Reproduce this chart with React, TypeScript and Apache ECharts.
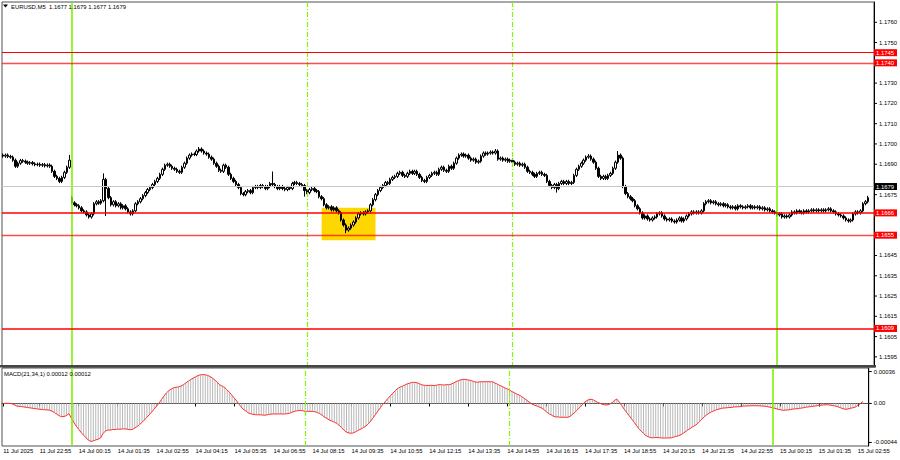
import React, { useEffect, useRef } from 'react';
import * as echarts from 'echarts';

// Closes in pips above 1.1600 (5-minute bars)
const fridayCloses = [
  94.0, 94.5, 93.8, 93.5, 92.0, 89.0, 90.5, 91.8, 91.5, 91.0,
  90.5, 90.8, 90.2, 89.8, 90.0, 89.5, 89.8, 89.2, 89.6, 89.0,
  86.5, 84.0, 83.0, 81.5, 83.5, 86.0, 88.5, 92.0,
];
const mondayCloses = [
  71.0, 70.0, 69.5, 68.5, 67.0, 66.5, 65.0, 64.0, 65.5, 70.5,
  71.5, 70.8, 72.0, 82.5, 78.0, 73.5, 70.0, 71.5, 69.5, 70.5,
  68.5, 69.5, 68.0, 66.5, 65.5, 67.0, 70.5, 71.5, 73.0, 74.5,
  76.0, 77.5, 78.5, 80.0, 81.5, 83.0, 85.0, 87.5, 89.5, 90.0,
  89.0, 88.0, 87.5, 86.5, 86.0, 88.5, 90.5, 93.0, 94.5, 95.0,
  94.8, 96.5, 97.5, 96.5, 95.5, 95.0, 93.5, 92.5, 90.5, 89.0,
  87.0, 86.5, 89.5, 88.5, 85.0, 83.0, 81.5, 80.0, 78.5, 75.5,
  75.0, 76.5, 77.0, 76.0, 78.5, 79.0, 78.5, 79.5, 79.0, 78.0,
  79.0, 80.5, 80.0, 79.0, 78.0, 79.0, 78.0, 77.5, 78.5, 78.0,
  80.5, 81.0, 80.5, 80.0, 79.5, 77.0, 76.0, 77.5, 78.0, 77.0,
  76.5, 74.0, 73.0, 70.0, 68.5, 69.0, 67.5, 68.5, 67.0, 66.0,
  62.5, 60.0, 57.5, 58.5, 60.0, 61.5, 63.5, 65.5, 66.0, 65.5,
  66.5, 67.0, 70.0, 72.5, 75.0, 77.0, 78.5, 79.5, 81.0, 80.5,
  82.5, 83.5, 84.0, 85.5, 86.0, 84.5, 84.0, 85.5, 86.5, 85.5,
  86.5, 85.0, 83.5, 82.0, 81.5, 83.5, 84.5, 85.5, 86.0, 85.0,
  87.5, 88.5, 87.0, 86.5, 89.0, 88.0, 90.5, 93.0, 94.5, 95.0,
  94.0, 94.5, 93.0, 92.0, 92.5, 91.0, 91.5, 94.0, 95.5, 95.0,
  95.5, 96.0, 95.5, 96.5, 92.5, 93.0, 92.0, 92.5, 91.5, 92.0,
  91.0, 90.0, 90.5, 89.5, 90.0, 88.5, 86.5, 86.0, 85.0, 84.0,
  85.5, 86.0, 85.0, 84.5, 81.5, 79.5, 78.5, 80.0, 78.0, 80.5,
  81.5, 80.5, 81.5, 80.5, 81.0, 84.5, 87.5, 89.0, 90.5, 92.0,
  93.5, 94.0, 92.5, 91.0, 88.0, 84.0, 83.0, 84.0, 83.0, 84.5,
  85.5, 88.0, 91.0, 94.5, 93.0, 79.0, 75.5, 74.0, 73.0, 72.0,
  69.5, 68.0, 66.0, 63.5, 64.5, 63.0, 62.5, 63.5, 64.0, 65.5,
  66.0, 64.5, 63.0, 62.5, 63.0, 62.0, 61.5, 62.5, 63.5, 62.0,
  63.0, 64.5, 65.5, 66.5, 66.0, 66.5, 66.0, 67.0, 70.5, 71.5,
  72.0, 71.0, 71.5, 70.5, 70.0, 70.5, 69.5, 70.0, 69.0, 68.5,
  69.0, 68.0, 69.5, 69.0, 68.5, 69.0, 69.5, 68.5, 69.0, 68.5,
  69.0, 68.0, 68.5, 67.5, 68.0, 67.0, 66.5, 66.0, 65.0, 65.5,
  64.0, 64.5, 64.0, 65.0, 66.5, 66.0, 67.0, 66.5, 66.0, 67.0,
  66.5, 67.0, 67.5, 67.0, 67.5, 67.0, 67.5, 67.0, 67.5, 68.0,
  67.0, 66.5, 65.5, 65.0, 64.5, 63.5, 62.5, 62.0, 62.5, 65.5,
  66.5, 66.0, 67.0, 70.5, 71.5, 73.5,
];
const firstOpen = 94.5;
const weekOpen = 73.5;
// [bar index, high pips or null, low pips or null]
const wickSpikes: [number, number | null, number | null][] = [
  [27, 94.6, null], [41, 85.5, null], [42, null, 64.5], [80, 98.5, null],
  [110, 86.4, null], [123, null, 74.0], [140, null, 56.0], [201, 97.5, null],
  [226, null, 76.0], [239, 95.0, null], [251, 96.5, null], [353, 74.4, null],
];
const xTickLabels = [
  '11 Jul 2025', '11 Jul 22:55', '14 Jul 00:15', '14 Jul 01:35', '14 Jul 02:55',
  '14 Jul 04:15', '14 Jul 05:35', '14 Jul 06:55', '14 Jul 08:15', '14 Jul 09:35',
  '14 Jul 10:55', '14 Jul 12:15', '14 Jul 13:35', '14 Jul 14:55', '14 Jul 16:15',
  '14 Jul 17:35', '14 Jul 18:55', '14 Jul 20:15', '14 Jul 21:35', '14 Jul 22:55',
  '15 Jul 00:15', '15 Jul 01:35', '15 Jul 02:55',
];
const priceTickLabels = [
  '1.1760', '1.1750', '1.1730', '1.1720', '1.1710', '1.1700', '1.1690',
  '1.1675', '1.1645', '1.1635', '1.1625', '1.1615', '1.1605', '1.1595',
];
const macdTickLabels: [number, string][] = [[0.00036, '0.00036'], [0, '0.00'], [-0.00044, '-0.00044']];
const levelPrices = [1.1745, 1.1740, 1.1666, 1.1655, 1.1609];
const levelOpacity = [1, 0.7, 1, 0.7, 1];
const levelWidths = [1, 1.4, 1.6, 1.4, 1.6];
const bidPrice = 1.1679;
const sessionLines = [28, 124, 208, 316];
const sessionDashed = [false, true, true, false];
const boxRange = { fromBar: 130, toBar: 152, high: 1.16685, low: 1.16525 };

const FONT = '"Liberation Sans", Arial, sans-serif';
const FS = 5.9;
const toPrice = (p: number) => +(1.16 + p / 10000).toFixed(5);

export default function App() {
  const ref = useRef<HTMLDivElement>(null);
  useEffect(() => {
    if (!ref.current) return;
    const chart = echarts.init(ref.current, null, { renderer: 'svg' });
    const closes = [...fridayCloses, ...mondayCloses];
    const nBars = closes.length;
    const nCats = nBars + 2;
    const cats = Array.from({ length: nCats }, (_, i) => 'b' + i);
    const spikeMap = new Map<number, [number | null, number | null]>();
    wickSpikes.forEach(([i, h, l]) => spikeMap.set(i, [h, l]));
    const candles: any[] = [];
    for (let i = 0; i < nCats; i++) {
      if (i >= nBars) { candles.push('-'); continue; }
      const c = closes[i];
      const o = i === 0 ? firstOpen : i === fridayCloses.length ? weekOpen : closes[i - 1];
      const sp = spikeMap.get(i);
      let h = Math.max(o, c) + 0.8;
      let l = Math.min(o, c) - 0.8;
      if (sp && sp[0] != null) h = Math.max(sp[0], o, c);
      if (sp && sp[1] != null) l = Math.min(sp[1], o, c);
      candles.push([toPrice(o), toPrice(c), toPrice(l), toPrice(h)]);
    }
    // MACD(21,34,1) from closes
    const a21 = 2 / 22, a34 = 2 / 35;
    let e21 = toPrice(closes[0]), e34 = toPrice(closes[0]);
    const macd: any[] = [];
    for (let i = 0; i < nCats; i++) {
      if (i >= nBars) { macd.push('-'); continue; }
      const p = toPrice(closes[i]);
      e21 = e21 + a21 * (p - e21);
      e34 = e34 + a34 * (p - e34);
      macd.push(+(e21 - e34).toFixed(7));
    }
    const isTick = (index: number) =>
      index === 0 || (index >= 15 && (index - 15) % 16 === 0 && (index - 15) / 16 + 1 < xTickLabels.length);
    const labelFor = (index: number) => {
      if (index === 0) return xTickLabels[0];
      const k = (index - 15) / 16 + 1;
      return xTickLabels[k] || '';
    };
    const boxLabel = (text: string, bg: string) => ({
      show: true, position: 'end', formatter: text, color: '#ffffff', backgroundColor: bg,
      padding: [1, 3, 0, 2], fontSize: FS, fontFamily: FONT, distance: 0, opacity: 1,
    });
    const hLines: any[] = levelPrices.map((p, i) => ({
      yAxis: p,
      lineStyle: { color: 'rgb(255,0,0)', width: levelWidths[i], type: 'solid', opacity: levelOpacity[i] },
      label: boxLabel(p.toFixed(4), 'rgb(255,0,0)'),
    }));
    hLines.push({
      yAxis: bidPrice,
      lineStyle: { color: 'rgb(200,200,200)', width: 1, type: 'solid', opacity: 1 },
      label: boxLabel(bidPrice.toFixed(4), '#000000'),
    });
    const makeVLines = () => sessionLines.map((b, i) => ({
      xAxis: b,
      lineStyle: sessionDashed[i]
        ? { color: '#7cfc00', width: 1.2, type: [5, 2, 1, 2], opacity: 1 }
        : { color: '#80f000', width: 1.6, type: 'solid', opacity: 1 },
      label: { show: false },
    }));
    const tickRich = {
      t: { width: 3, height: 1, backgroundColor: '#000' },
      v: { padding: [0, 0, 0, 2], fontSize: FS, fontFamily: FONT, color: '#000' },
    };
    const option: any = {
      animation: false,
      backgroundColor: '#ffffff',
      grid: [
        { left: 2, top: 2, width: 874, height: 365, show: true, borderColor: '#505050', borderWidth: 1 },
        { left: 2, top: 368, width: 874, height: 78, show: true, borderColor: '#505050', borderWidth: 1 },
      ],
      xAxis: [
        {
          type: 'category', gridIndex: 0, data: cats, boundaryGap: true,
          axisLine: { show: false }, axisTick: { show: false }, axisLabel: { show: false }, splitLine: { show: false },
        },
        {
          type: 'category', gridIndex: 1, data: cats, boundaryGap: true,
          axisLine: { show: true, lineStyle: { color: '#505050' } },
          axisTick: { show: true, alignWithLabel: true, interval: isTick, length: 3, lineStyle: { color: '#000' } },
          axisLabel: {
            show: true, interval: isTick, formatter: (_v: string, i: number) => labelFor(i),
            align: 'left', margin: 2, fontSize: FS, color: '#000', fontFamily: FONT,
          },
          splitLine: { show: false },
        },
      ],
      yAxis: [
        {
          type: 'value', gridIndex: 0, position: 'right', min: 1.1590, max: 1.1770, interval: 0.0005,
          axisLine: { show: true, lineStyle: { color: '#000' } }, axisTick: { show: false }, splitLine: { show: false },
          axisLabel: {
            margin: 0, fontSize: FS, color: '#000', fontFamily: FONT, rich: tickRich,
            formatter: (v: number) => { const s = v.toFixed(4); return priceTickLabels.includes(s) ? `{t|}{v|${s}}` : ''; },
          },
        },
        {
          type: 'value', gridIndex: 1, position: 'right', min: -0.00048, max: 0.0004, interval: 0.00004,
          axisLine: { show: true, lineStyle: { color: '#000' } }, axisTick: { show: false }, splitLine: { show: false },
          axisLabel: {
            margin: 0, fontSize: FS, color: '#000', fontFamily: FONT, rich: tickRich,
            formatter: (v: number) => {
              const m = macdTickLabels.find(([t]) => Math.abs(t - v) < 1e-8);
              return m ? `{t|}{v|${m[1]}}` : '';
            },
          },
        },
      ],
      series: [
        {
          type: 'candlestick', xAxisIndex: 0, yAxisIndex: 0, data: candles, barWidth: 2, z: 2,
          itemStyle: { color: '#ffffff', color0: '#000000', borderColor: '#000000', borderColor0: '#000000', borderWidth: 1 },
          markArea: {
            silent: true,
            itemStyle: { color: '#ffd700', opacity: 1 },
            data: [[{ xAxis: boxRange.fromBar, yAxis: boxRange.high }, { xAxis: boxRange.toBar, yAxis: boxRange.low }]],
          },
          markLine: { silent: true, symbol: ['none', 'none'], precision: 5, animation: false, data: makeVLines() },
        },
        {
          type: 'line', xAxisIndex: 0, yAxisIndex: 0, data: [], symbol: 'none', z: 4,
          itemStyle: { color: '#ff0000' }, lineStyle: { color: '#ff0000' },
          markLine: { silent: true, symbol: ['none', 'none'], precision: 5, animation: false, data: hLines },
        },
        {
          type: 'bar', xAxisIndex: 1, yAxisIndex: 1, data: macd, barWidth: 1,
          itemStyle: { color: '#b8b8b8' },
        },
        {
          type: 'line', xAxisIndex: 1, yAxisIndex: 1, data: macd, symbol: 'none',
          lineStyle: { color: '#ff3030', width: 1 },
          markLine: {
            silent: true, symbol: ['none', 'none'], precision: 5, animation: false,
            data: makeVLines(),
          },
        },
      ],
      graphic: [
        { type: 'rect', shape: { x: 0, y: 365, width: 876, height: 2.5 }, style: { fill: '#454545' }, z: 100 },
        { type: 'polygon', shape: { points: [[3, 4.5], [8, 4.5], [5.5, 7.5]] }, style: { fill: '#000' }, z: 100 },
        {
          type: 'text', x: 11, y: 6.5, z: 100,
          style: { text: 'EURUSD,M5\u00a0\u00a01.1677 1.1679 1.1677 1.1679', fill: '#000', font: FS + 'px ' + FONT, align: 'left', verticalAlign: 'middle' },
        },
        {
          type: 'text', x: 4, y: 373.5, z: 100,
          style: { text: 'MACD(21,34,1) 0.00012 0.00012', fill: '#000', font: FS + 'px ' + FONT, align: 'left', verticalAlign: 'middle' },
        },
      ],
    };
    chart.setOption(option);
    return () => chart.dispose();
  }, []);
  return (
    <div
      ref={ref}
      style={{ position: 'fixed', left: 0, top: 0, width: 900, height: 460, background: '#fff' }}
    />
  );
}
